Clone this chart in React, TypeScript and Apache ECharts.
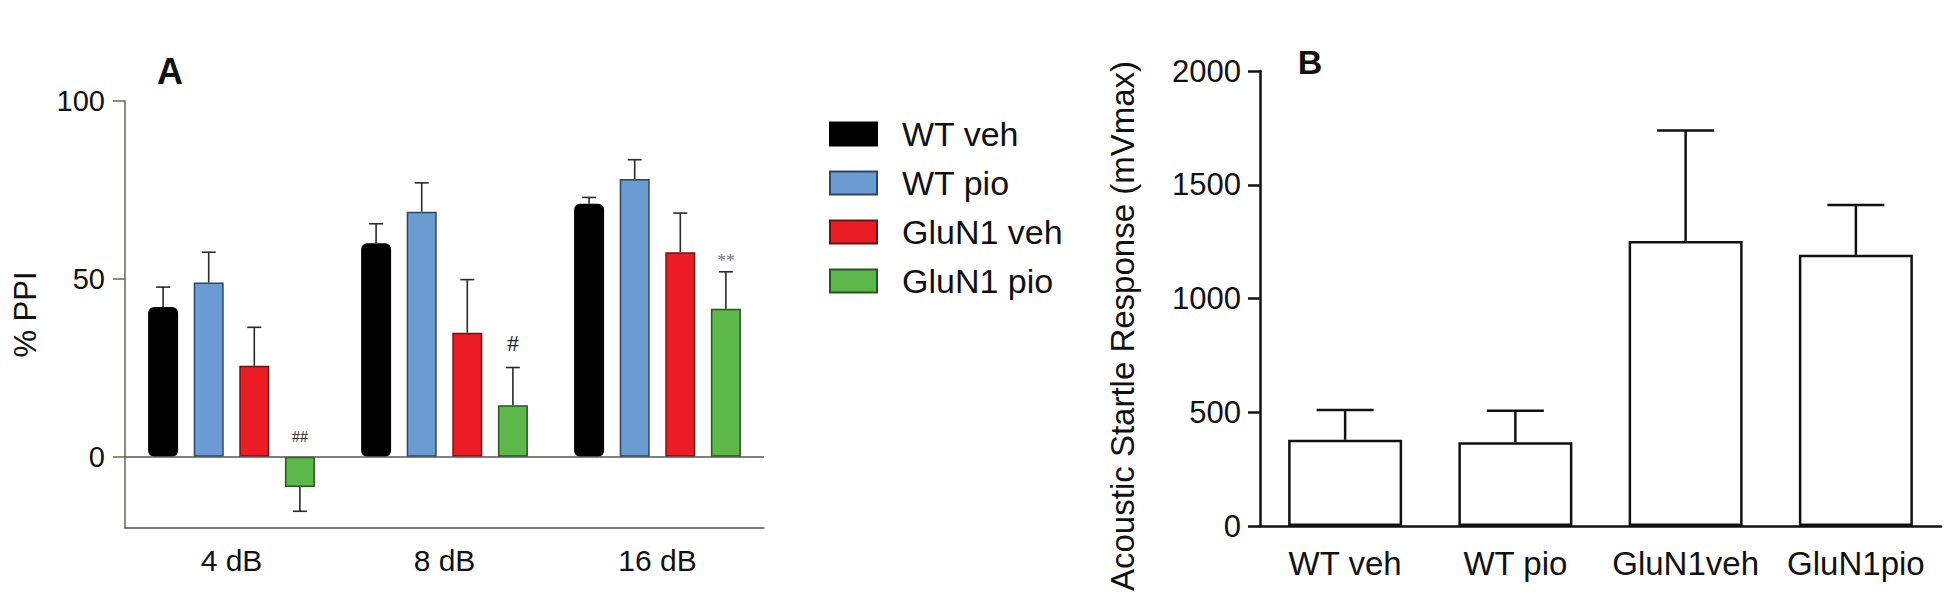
import React, { useEffect, useRef } from "react";
import * as echarts from "echarts";

// ---------- Panel A data ----------
const dbCategories = ["4 dB", "8 dB", "16 dB"];
const groupNames = ["WT veh", "WT pio", "GluN1 veh", "GluN1 pio"];
const wtVeh = [42.1, 60.0, 71.1];
const wtVehErr = [5.6, 5.5, 1.8];
const wtPio = [49.0, 68.9, 78.1];
const wtPioErr = [8.5, 8.1, 5.4];
const glunVeh = [25.6, 34.9, 57.5];
const glunVehErr = [10.8, 14.9, 11.0];
const glunPio = [-8.5, 14.5, 41.6];
const glunPioErr = [6.8, 10.6, 10.4];
const glunPioMarks = ["##", "#", "**"];
const ppiTicks = [0, 50, 100];

// ---------- Panel B data ----------
const startleCategories = ["WT veh", "WT pio", "GluN1veh", "GluN1pio"];
const startleMeans = [379, 368, 1253, 1192];
const startleErr = [131, 139, 486, 219];

const FONT = "'Liberation Sans', Arial, Helvetica, sans-serif";
const SERIF = "'Liberation Serif', 'Times New Roman', serif";
const TEXT = "#111";

const groupValues = [wtVeh, wtPio, glunVeh, glunPio];
const groupErrs = [wtVehErr, wtPioErr, glunVehErr, glunPioErr];
const fills = ["#000000", "#6b9bd3", "#ec1c24", "#5cb848"];
const borders = ["#000000", "#2e4660", "#6a1414", "#2a5222"];

const BAR_W = 30;
const BAR_GAP = 0.52;
const PITCH = BAR_W * (1 + BAR_GAP);

const markStyles = [
  { size: 16, lift: 20, color: "#222" },
  { size: 24, lift: 25, color: "#222" },
  { size: 18, lift: 11, color: "#777" },
];

function errorSeriesA(idx: number) {
  const vals = groupValues[idx];
  const errs = groupErrs[idx];
  return {
    type: "custom",
    name: "err" + idx,
    xAxisIndex: 0,
    yAxisIndex: 0,
    z: 5,
    silent: true,
    encode: { x: 0, y: 1 },
    data: vals.map((v, i) => [i, v, errs[i]]),
    renderItem: (params: any, api: any) => {
      const c = api.value(0);
      const v = api.value(1);
      const e = api.value(2);
      const dir = v >= 0 ? 1 : -1;
      const base = api.coord([c, v]);
      const tip = api.coord([c, v + dir * e]);
      const x = base[0] + (idx - 1.5) * PITCH;
      const st = { stroke: "#2a2a2a", lineWidth: 1.6 };
      return {
        type: "group",
        children: [
          { type: "line", shape: { x1: x, y1: base[1], x2: x, y2: tip[1] }, style: st },
          { type: "line", shape: { x1: x - 7, y1: tip[1], x2: x + 7, y2: tip[1] }, style: st },
        ],
      };
    },
  };
}

export default function App() {
  const ref = useRef<HTMLDivElement>(null);

  useEffect(() => {
    if (!ref.current) return;
    const chart = echarts.init(ref.current, null, { renderer: "svg" });

    const barSeriesA = groupNames.map((name, i) => ({
      type: "bar",
      name,
      xAxisIndex: 0,
      yAxisIndex: 0,
      data: groupValues[i],
      barWidth: BAR_W,
      barGap: BAR_GAP * 100 + "%",
      itemStyle: {
        color: fills[i],
        borderColor: borders[i],
        borderWidth: i === 0 ? 4 : 1.5,
        borderRadius: i === 0 ? 4 : 0,
      },
      ...(i === 0
        ? {
            markLine: {
              silent: true,
              symbol: ["none", "none"],
              label: { show: false },
              lineStyle: { color: "#555", width: 1.5, type: "solid" },
              data: [{ yAxis: 0 }],
            },
          }
        : {}),
    }));

    const marksSeries = {
      type: "custom",
      name: "marks",
      xAxisIndex: 0,
      yAxisIndex: 0,
      z: 6,
      silent: true,
      encode: { x: 0, y: 1 },
      data: glunPio.map((v, i) => [i, v >= 0 ? v + glunPioErr[i] : 0]),
      renderItem: (params: any, api: any) => {
        const i = params.dataIndex;
        const p = api.coord([api.value(0), api.value(1)]);
        const ms = markStyles[i];
        return {
          type: "text",
          x: p[0] + 1.5 * PITCH,
          y: p[1] - ms.lift,
          style: {
            text: glunPioMarks[i],
            fontFamily: SERIF,
            fontSize: ms.size,
            fill: ms.color,
            align: "center",
            verticalAlign: "middle",
          },
        };
      },
    };

    const barSeriesB = {
      type: "bar",
      name: "Startle",
      xAxisIndex: 1,
      yAxisIndex: 1,
      data: startleMeans,
      barWidth: 114,
      itemStyle: { color: "#ffffff", borderColor: "#111", borderWidth: 2.5 },
    };

    const errSeriesB = {
      type: "custom",
      name: "errB",
      xAxisIndex: 1,
      yAxisIndex: 1,
      z: 5,
      silent: true,
      encode: { x: 0, y: 1 },
      data: startleMeans.map((v, i) => [i, v, startleErr[i]]),
      renderItem: (params: any, api: any) => {
        const c = api.value(0);
        const v = api.value(1);
        const e = api.value(2);
        const base = api.coord([c, v]);
        const tip = api.coord([c, v + e]);
        const st = { stroke: "#111", lineWidth: 2.5 };
        return {
          type: "group",
          children: [
            { type: "line", shape: { x1: base[0], y1: base[1], x2: base[0], y2: tip[1] }, style: st },
            { type: "line", shape: { x1: base[0] - 28.5, y1: tip[1], x2: base[0] + 28.5, y2: tip[1] }, style: st },
          ],
        };
      },
    };

    const option: any = {
      animation: false,
      backgroundColor: "#ffffff",
      textStyle: { fontFamily: FONT },
      grid: [
        { left: 125, top: 101, width: 639, height: 427, containLabel: false, outerBoundsMode: "none" },
        { left: 1260, top: 71, width: 681, height: 455, containLabel: false, outerBoundsMode: "none" },
      ],
      legend: {
        orient: "vertical",
        left: 824,
        top: 112,
        itemWidth: 47,
        itemHeight: 23,
        itemGap: 15,
        icon: "rect",
        selectedMode: false,
        data: groupNames,
        textStyle: { fontFamily: FONT, fontSize: 34, lineHeight: 34, color: TEXT, padding: [0, 0, 0, 20] },
      },
      xAxis: [
        {
          type: "category",
          gridIndex: 0,
          data: dbCategories,
          axisLine: { onZero: false, lineStyle: { color: "#555", width: 1.5 } },
          axisTick: { alignWithLabel: true, length: 12, lineStyle: { color: "#555", width: 1.5 } },
          axisLabel: { interval: 0, fontFamily: FONT, fontSize: 30, color: TEXT, margin: 17 },
          splitLine: { show: false },
        },
        {
          type: "category",
          gridIndex: 1,
          data: startleCategories,
          axisLine: { onZero: false, lineStyle: { color: "#111", width: 2.5 } },
          axisTick: { alignWithLabel: true, length: 12, lineStyle: { color: "#111", width: 2.5 } },
          axisLabel: { interval: 0, hideOverlap: false, fontFamily: FONT, fontSize: 33, color: TEXT, margin: 21 },
          splitLine: { show: false },
        },
      ],
      yAxis: [
        {
          type: "value",
          gridIndex: 0,
          min: -20,
          max: 100,
          name: "% PPI",
          nameLocation: "middle",
          nameGap: 84,
          nameTextStyle: { fontFamily: FONT, fontSize: 31, color: TEXT },
          axisLine: { show: true, lineStyle: { color: "#6e6259", width: 1.5 } },
          axisTick: { show: true, length: 12, customValues: ppiTicks, lineStyle: { color: "#6e6259", width: 1.5 } },
          axisLabel: { customValues: ppiTicks, fontFamily: FONT, fontSize: 29, color: TEXT, margin: 20 },
          splitLine: { show: false },
        },
        {
          type: "value",
          gridIndex: 1,
          min: 0,
          max: 2000,
          interval: 500,
          axisLine: { show: true, lineStyle: { color: "#111", width: 2.5 } },
          axisTick: { show: true, length: 12, lineStyle: { color: "#111", width: 2.5 } },
          axisLabel: {
            fontFamily: FONT,
            fontSize: 31,
            color: TEXT,
            margin: 19,
            formatter: (v: number) => String(v),
          },
          splitLine: { show: false },
        },
      ],
      graphic: [
        {
          type: "text",
          x: 170,
          y: 71,
          style: { text: "A", fontFamily: FONT, fontWeight: "bold", fontSize: 36, fill: TEXT, align: "center", verticalAlign: "middle" },
        },
        {
          type: "text",
          x: 1310,
          y: 62,
          style: { text: "B", fontFamily: FONT, fontWeight: "bold", fontSize: 34, fill: TEXT, align: "center", verticalAlign: "middle" },
        },
        {
          type: "text",
          x: 1122,
          y: 326,
          rotation: Math.PI / 2,
          style: {
            text: "Acoustic Startle Response (mVmax)",
            fontFamily: FONT,
            fontSize: 33,
            fill: TEXT,
            align: "center",
            verticalAlign: "middle",
          },
        },
      ],
      series: [
        ...barSeriesA,
        errorSeriesA(0),
        errorSeriesA(1),
        errorSeriesA(2),
        errorSeriesA(3),
        marksSeries,
        barSeriesB,
        errSeriesB,
      ],
    };

    chart.setOption(option);
    return () => {
      chart.dispose();
    };
  }, []);

  return (
    <div
      ref={ref}
      style={{ position: "absolute", left: 0, top: 0, width: 1950, height: 601, background: "#fff" }}
    />
  );
}
